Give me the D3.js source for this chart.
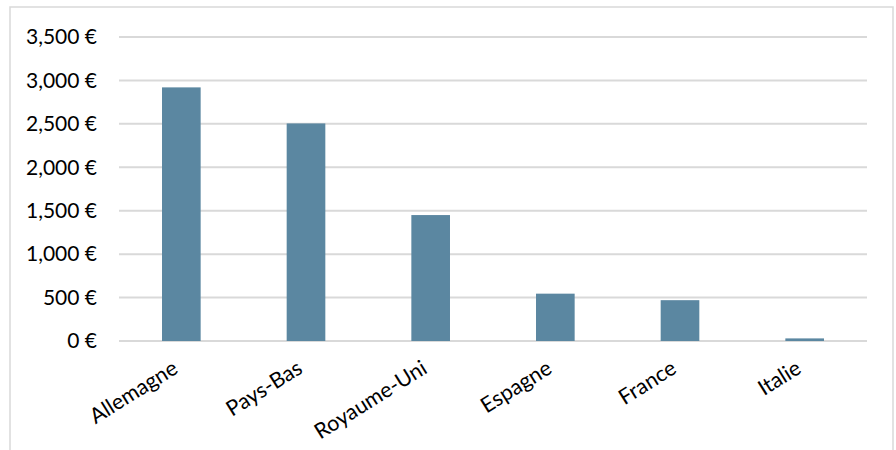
<!DOCTYPE html>
<html lang="fr">
<head>
    <meta charset="UTF-8" />
    <title>Graphique - pays</title>
    <script src="https://d3js.org/d3.v7.min.js"></script>
    <style>
        body { margin: 0; background: #fff; }
        svg text { font-family: Lato, "Open Sans", sans-serif; fill: #000; }
        .grid line { stroke: #d9d9d9; stroke-width: 2; }
    </style>
</head>
<body>
<div id="chart"></div>
<script>
    // Données
    const pays = ["Allemagne", "Pays-Bas", "Royaume-Uni", "Espagne", "France", "Italie"];
    const montants = [2920, 2505, 1450, 545, 470, 30];
    const graduations = [0, 500, 1000, 1500, 2000, 2500, 3000, 3500];

    const W = 896, H = 450;
    const margin = { top: 37, right: 29, bottom: 109, left: 119 };

    const svg = d3.select("#chart").append("svg")
        .attr("width", W)
        .attr("height", H);

    // cadre
    svg.append("rect")
        .attr("x", 10).attr("y", 7)
        .attr("width", 883).attr("height", 460)
        .attr("fill", "none")
        .attr("stroke", "#d9d9d9")
        .attr("stroke-width", 1.5);

    const x = d3.scaleBand()
        .domain(pays)
        .range([margin.left, W - margin.right])
        .paddingInner(0.69)
        .paddingOuter(0.345);

    const y = d3.scaleLinear()
        .domain([0, 3500])
        .range([H - margin.bottom, margin.top]);

    const fmt = d => d3.format(",")(d) + " €";

    // lignes de grille
    svg.append("g")
        .attr("class", "grid")
        .selectAll("line")
        .data(graduations)
        .enter()
        .append("line")
        .attr("x1", margin.left)
        .attr("x2", W - margin.right)
        .attr("y1", d => y(d))
        .attr("y2", d => y(d));

    // barres
    svg.append("g")
        .selectAll("rect")
        .data(pays)
        .enter()
        .append("rect")
        .attr("x", d => x(d))
        .attr("width", x.bandwidth())
        .attr("y", (d, i) => y(montants[i]))
        .attr("height", (d, i) => y(0) - y(montants[i]))
        .attr("fill", "#5b87a1");

    // axe Y
    svg.append("g")
        .selectAll("text")
        .data(graduations)
        .enter()
        .append("text")
        .attr("x", 97)
        .attr("y", d => y(d))
        .attr("dy", "0.35em")
        .attr("text-anchor", "end")
        .attr("font-size", 21)
        .text(fmt);

    // axe X
    svg.append("g")
        .selectAll("text")
        .data(pays)
        .enter()
        .append("text")
        .attr("text-anchor", "end")
        .attr("font-size", 21.5)
        .attr("transform", d => `translate(${x(d) + x.bandwidth() / 2 - 2},${y(0) + 31}) rotate(-32)`)
        .text(d => d);
</script>
</body>
</html>
